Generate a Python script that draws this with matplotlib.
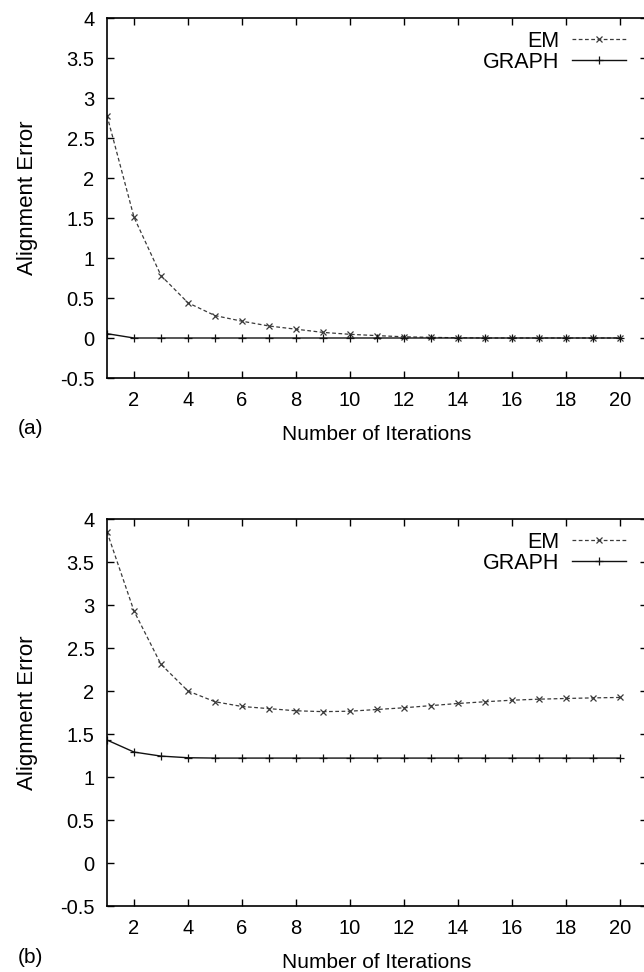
import matplotlib
matplotlib.use("Agg")
import matplotlib.pyplot as plt

plt.rcParams['font.family'] = ['Liberation Sans', 'DejaVu Sans']

iterations = list(range(1, 21))
em_a = [2.78, 1.51, 0.78, 0.44, 0.28, 0.21, 0.15, 0.11, 0.07, 0.046, 0.03, 0.015,
        0.008, 0.003, 0.0, 0.0, 0.0, 0.0, 0.0, 0.0]
graph_a = [0.054] + [0.0] * 19
em_b = [3.85, 2.93, 2.31, 2.0, 1.875, 1.82, 1.795, 1.77, 1.76, 1.765, 1.785, 1.805,
        1.83, 1.855, 1.875, 1.893, 1.905, 1.913, 1.92, 1.925]
graph_b = [1.43, 1.29, 1.243, 1.224] + [1.22] * 16
yticks = [-0.5, 0, 0.5, 1, 1.5, 2, 2.5, 3, 3.5, 4]
ytick_labels = ['-0.5', '0', '0.5', '1', '1.5', '2', '2.5', '3', '3.5', '4']
xticks = [2, 4, 6, 8, 10, 12, 14, 16, 18, 20]
panel_labels = ['(a)', '(b)']

W, H = 644, 972
fig = plt.figure(figsize=(W / 100, H / 100), dpi=100)

# axes rectangles in pixel coords: left, top, right, bottom
rects = [(107, 18, 647, 378), (107, 519, 647, 906)]
data = [(em_a, graph_a), (em_b, graph_b)]

for i, ((l, t, r, b), (em, gr)) in enumerate(zip(rects, data)):
    ax = fig.add_axes([l / W, 1 - b / H, (r - l) / W, (b - t) / H])
    ax.plot(iterations, em, linestyle=(0, (3, 2)), color='#3a3a3a', lw=0.9,
            marker='x', markersize=5, markeredgewidth=0.9, label='EM')
    ax.plot(iterations, gr, linestyle='-', color='#111111', lw=1.0,
            marker='+', markersize=6, markeredgewidth=0.9, label='GRAPH')
    ax.set_xlim(1, 21)
    ax.set_ylim(-0.5, 4)
    ax.set_xticks(xticks)
    ax.set_yticks(yticks)
    ax.set_yticklabels(ytick_labels)
    ax.tick_params(direction='in', top=True, right=True, length=5, width=1,
                   labelsize=14.5, pad=9)
    for s in ax.spines.values():
        s.set_linewidth(1.2)
    ax.set_xlabel('Number of Iterations', fontsize=15, labelpad=11)
    ax.set_ylabel('Alignment Error', fontsize=16, labelpad=16)
    leg = ax.legend(loc='upper right', bbox_to_anchor=(0.985, 1.0), frameon=False,
                    markerfirst=False, fontsize=15.5, handlelength=2.5,
                    handletextpad=0.6, labelspacing=0.0, borderaxespad=0.2)
    for txt in leg.get_texts():
        txt.set_ha('right')
    fig.text(18 / W, 1 - (b + 51) / H, panel_labels[i], fontsize=15,
             va='center', ha='left')

fig.savefig('out.png', dpi=100)
